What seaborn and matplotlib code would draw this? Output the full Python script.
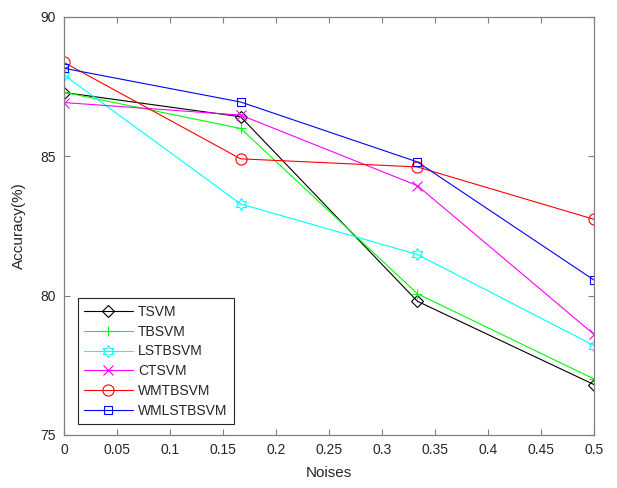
import numpy as np
import pandas as pd
import matplotlib
matplotlib.use("Agg")
import matplotlib.pyplot as plt
import seaborn as sns
from matplotlib.path import Path

noises = [0.0, 1/6, 1/3, 0.5]
methods = ["TSVM", "TBSVM", "LSTBSVM", "CTSVM", "WMTBSVM", "WMLSTBSVM"]
tsvm = [87.29, 86.42, 79.80, 76.81]
tbsvm = [87.30, 86.00, 80.07, 77.01]
lstbsvm = [87.92, 83.29, 81.48, 78.21]
ctsvm = [86.93, 86.48, 83.95, 78.61]
wmtbsvm = [88.37, 84.91, 84.62, 82.74]
wmlstbsvm = [88.16, 86.95, 84.80, 80.56]
xticks = [0, 0.05, 0.1, 0.15, 0.2, 0.25, 0.3, 0.35, 0.4, 0.45, 0.5]
xticklabels = ["0", "0.05", "0.1", "0.15", "0.2", "0.25", "0.3", "0.35", "0.4", "0.45", "0.5"]
yticks = [75, 80, 85, 90]

series = [tsvm, tbsvm, lstbsvm, ctsvm, wmtbsvm, wmlstbsvm]

sns.set_style("white")
plt.rcParams['font.family'] = ['Liberation Sans', 'DejaVu Sans']

# hexagram marker
ang = np.deg2rad(90 + 30 * np.arange(12))
rad = np.where(np.arange(12) % 2 == 0, 1.0, 0.577)
hex_verts = list(zip(rad * np.cos(ang), rad * np.sin(ang)))
hex_verts.append(hex_verts[0])
hexagram = Path(hex_verts, closed=True)

colors = ["#000000", "#00FF00", "#00FFFF", "#FF00FF", "#FF0000", "#0000FF"]
markers = ["D", "+", hexagram, "x", "o", "s"]
msizes = [6.5, 7.5, 8.5, 6.5, 8, 6]

fig = plt.figure(figsize=(6.17, 4.88), dpi=100)
ax = fig.add_axes([64/617, 1 - 435/488, (594-64)/617, (435-17)/488])

for name, vals, c, m, ms in zip(methods, series, colors, markers, msizes):
    df = pd.DataFrame({"Noises": noises, "Accuracy": vals})
    sns.lineplot(data=df, x="Noises", y="Accuracy", ax=ax, color=c, marker=m,
                 markersize=ms, linewidth=0.8, label=name,
                 markerfacecolor="none", markeredgecolor=c, markeredgewidth=0.8,
                 legend=False)

ax.set_xlim(0, 0.5)
ax.set_ylim(75, 90)
ax.set_xticks(xticks)
ax.set_xticklabels(xticklabels)
ax.set_yticks(yticks)
ax.set_xlabel("Noises", fontsize=11, color="#262626", labelpad=6)
ax.set_ylabel("Accuracy(%)", fontsize=11, color="#262626", labelpad=10)
ax.tick_params(direction="in", length=4, width=0.8, colors="#808080",
               labelcolor="#262626", labelsize=10, top=True, right=True,
               bottom=True, left=True, labeltop=False, labelright=False, pad=6)
for sp in ax.spines.values():
    sp.set_visible(True)
    sp.set_color("#808080")
    sp.set_linewidth(0.9)

handles = ax.lines[:len(methods)]
leg = ax.legend(handles, methods, loc="lower left", bbox_to_anchor=(0.026, 0.026),
                borderaxespad=0, fontsize=10, handlelength=3.5, handletextpad=0.4,
                labelspacing=0.42, borderpad=0.45, fancybox=False, framealpha=1,
                edgecolor="#262626")
leg.get_frame().set_linewidth(0.8)

fig.savefig("out.png", dpi=100)
